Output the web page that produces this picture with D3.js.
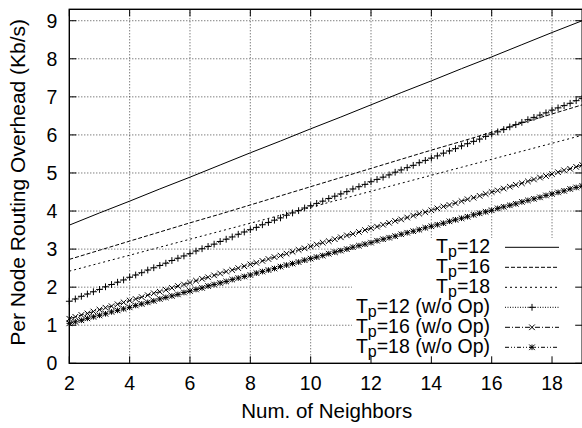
<!DOCTYPE html>
<html>
<head>
<meta charset="utf-8">
<script src="https://cdn.jsdelivr.net/npm/d3@7"></script>
<style>
  body { margin: 0; background: #fff; }
  svg text { font-family: "Liberation Sans", Arial, Helvetica, sans-serif; fill: #000; }
</style>
</head>
<body>
<div id="chart"></div>
<script>

// ******* DATA *******
// integer neighbor counts used by the straight T_p lines
var neighbors = [2, 3, 4, 5, 6, 7, 8, 9, 10, 11, 12, 13, 14, 15, 16, 17, 18, 19];
var tp12 = [3.63, 3.95, 4.26, 4.58, 4.89, 5.21, 5.53, 5.84, 6.16, 6.47, 6.79, 7.11, 7.42, 7.74, 8.05, 8.37, 8.69, 9.00];
var tp16 = [2.73, 2.97, 3.21, 3.45, 3.69, 3.92, 4.16, 4.40, 4.64, 4.88, 5.12, 5.36, 5.60, 5.83, 6.07, 6.31, 6.55, 6.79];
var tp18 = [2.42, 2.63, 2.84, 3.05, 3.26, 3.47, 3.68, 3.89, 4.10, 4.31, 4.52, 4.73, 4.94, 5.15, 5.36, 5.57, 5.78, 5.99];

// sample points of the "w/o Op" curves (one mark each)
var neighborsFine = [2.0, 2.2, 2.4, 2.6, 2.8, 3.0, 3.2, 3.4, 3.6, 3.8, 4.0, 4.2, 4.4, 4.6, 4.8,
	5.0, 5.2, 5.4, 5.6, 5.8, 6.0, 6.2, 6.4, 6.6, 6.8, 7.0, 7.2, 7.4, 7.6, 7.8,
	8.0, 8.2, 8.4, 8.6, 8.8, 9.0, 9.2, 9.4, 9.6, 9.8, 10.0, 10.2, 10.4, 10.6, 10.8,
	11.0, 11.2, 11.4, 11.6, 11.8, 12.0, 12.2, 12.4, 12.6, 12.8, 13.0, 13.2, 13.4, 13.6, 13.8,
	14.0, 14.2, 14.4, 14.6, 14.8, 15.0, 15.2, 15.4, 15.6, 15.8, 16.0, 16.2, 16.4, 16.6, 16.8,
	17.0, 17.2, 17.4, 17.6, 17.8, 18.0, 18.2, 18.4, 18.6, 18.8, 19.0];
var tp12NoOp = [1.63, 1.69, 1.76, 1.82, 1.88, 1.94, 2.01, 2.07, 2.13, 2.19, 2.26, 2.32, 2.38, 2.45, 2.51,
	2.57, 2.63, 2.70, 2.76, 2.82, 2.88, 2.95, 3.01, 3.07, 3.13, 3.20, 3.26, 3.32, 3.39, 3.45,
	3.51, 3.57, 3.64, 3.70, 3.76, 3.82, 3.89, 3.95, 4.01, 4.08, 4.14, 4.20, 4.26, 4.33, 4.39,
	4.45, 4.51, 4.58, 4.64, 4.70, 4.77, 4.83, 4.89, 4.95, 5.02, 5.08, 5.14, 5.20, 5.27, 5.33,
	5.39, 5.45, 5.52, 5.58, 5.64, 5.71, 5.77, 5.83, 5.89, 5.96, 6.02, 6.08, 6.14, 6.21, 6.27,
	6.33, 6.40, 6.46, 6.52, 6.58, 6.65, 6.71, 6.77, 6.83, 6.90, 6.96];
var tp16NoOp = [1.17, 1.22, 1.27, 1.31, 1.36, 1.41, 1.46, 1.50, 1.55, 1.60, 1.65, 1.69, 1.74, 1.79, 1.84,
	1.88, 1.93, 1.98, 2.03, 2.07, 2.12, 2.17, 2.22, 2.26, 2.31, 2.36, 2.41, 2.45, 2.50, 2.55,
	2.60, 2.64, 2.69, 2.74, 2.79, 2.83, 2.88, 2.93, 2.98, 3.02, 3.07, 3.12, 3.17, 3.21, 3.26,
	3.31, 3.36, 3.40, 3.45, 3.50, 3.55, 3.59, 3.64, 3.69, 3.74, 3.78, 3.83, 3.88, 3.93, 3.97,
	4.02, 4.07, 4.12, 4.16, 4.21, 4.26, 4.31, 4.35, 4.40, 4.45, 4.50, 4.54, 4.59, 4.64, 4.69,
	4.73, 4.78, 4.83, 4.88, 4.92, 4.97, 5.02, 5.07, 5.11, 5.16, 5.21];
var tp18NoOp = [1.05, 1.09, 1.13, 1.18, 1.22, 1.26, 1.30, 1.35, 1.39, 1.43, 1.47, 1.52, 1.56, 1.60, 1.64,
	1.69, 1.73, 1.77, 1.81, 1.86, 1.90, 1.94, 1.98, 2.03, 2.07, 2.11, 2.15, 2.20, 2.24, 2.28,
	2.32, 2.37, 2.41, 2.45, 2.49, 2.54, 2.58, 2.62, 2.66, 2.71, 2.75, 2.79, 2.83, 2.88, 2.92,
	2.96, 3.00, 3.05, 3.09, 3.13, 3.17, 3.22, 3.26, 3.30, 3.34, 3.39, 3.43, 3.47, 3.51, 3.56,
	3.60, 3.64, 3.68, 3.73, 3.77, 3.81, 3.85, 3.90, 3.94, 3.98, 4.02, 4.07, 4.11, 4.15, 4.19,
	4.24, 4.28, 4.32, 4.36, 4.41, 4.45, 4.49, 4.53, 4.58, 4.62, 4.66];

// tick labels
var xTicks = [2, 4, 6, 8, 10, 12, 14, 16, 18];
var yTicks = [0, 1, 2, 3, 4, 5, 6, 7, 8, 9];

// series table: label number, style, marker
var series = [
	{tp: "12", extra: "", xs: neighbors, ys: tp12, dash: null, mark: null},
	{tp: "16", extra: "", xs: neighbors, ys: tp16, dash: "4,2", mark: null},
	{tp: "18", extra: "", xs: neighbors, ys: tp18, dash: "2,3", mark: null},
	{tp: "12", extra: " (w/o Op)", xs: neighborsFine, ys: tp12NoOp, dash: "1,1.5", mark: "plus"},
	{tp: "16", extra: " (w/o Op)", xs: neighborsFine, ys: tp16NoOp, dash: "5,2,1,2", mark: "cross"},
	{tp: "18", extra: " (w/o Op)", xs: neighborsFine, ys: tp18NoOp, dash: "4,2,1,2,1,2", mark: "star"}
];

// SVG drawing area
var W = 582, H = 428;
var margin = {top: 9.3, right: -0.2, bottom: 64.7, left: 69.3};
var width = W - margin.left - margin.right,
	height = H - margin.top - margin.bottom;

var svg = d3.select("#chart").append("svg")
	.attr("width", W)
	.attr("height", H)
	.style("display", "block");

var g = svg.append("g")
	.attr("transform", "translate(" + margin.left + "," + margin.top + ")");

// ******* SCALES *******
var xScale = d3.scaleLinear().domain([2, 19]).range([0, width]);
var yScale = d3.scaleLinear().domain([0, 9.3]).range([height, 0]);

// ******* GRID *******
var gridStyle = function(sel) {
	sel.attr("stroke", "#333").attr("stroke-width", 0.9).attr("stroke-dasharray", "1,2");
};
g.selectAll(".vgrid")
	.data(xTicks.filter(function(d) { return d > 2; }))
	.enter().append("line")
	.attr("class", "vgrid")
	.attr("x1", function(d) { return xScale(d); })
	.attr("x2", function(d) { return xScale(d); })
	.attr("y1", 0)
	.attr("y2", height)
	.call(gridStyle);
g.selectAll(".hgrid")
	.data(yTicks.filter(function(d) { return d > 0; }))
	.enter().append("line")
	.attr("class", "hgrid")
	.attr("x1", 0)
	.attr("x2", width)
	.attr("y1", function(d) { return yScale(d); })
	.attr("y2", function(d) { return yScale(d); })
	.call(gridStyle);

// opaque key box hides the grid behind the legend
var keyLeft = 352 - margin.left, keyTop = 238 - margin.top;
g.append("rect")
	.attr("x", keyLeft)
	.attr("y", keyTop)
	.attr("width", width - keyLeft)
	.attr("height", height - keyTop)
	.attr("fill", "#fff");

// ******* LINES *******
var line = d3.line()
	.x(function(d) { return xScale(d[0]); })
	.y(function(d) { return yScale(d[1]); });

function markerPath(type, r) {
	var p = "M" + (-r) + ",0H" + r + "M0," + (-r) + "V" + r;
	var x = "M" + (-r) + "," + (-r) + "L" + r + "," + r + "M" + (-r) + "," + r + "L" + r + "," + (-r);
	if (type == "plus") return p;
	if (type == "cross") return x;
	return p + x;
}

series.forEach(function(s) {
	var pts = s.xs.map(function(x, i) { return [x, s.ys[i]]; });
	g.append("path")
		.attr("d", line(pts))
		.attr("fill", "none")
		.attr("stroke", "#000")
		.attr("stroke-width", 1)
		.attr("stroke-dasharray", s.dash);
	if (s.mark) {
		g.selectAll(".m-" + s.mark)
			.data(pts)
			.enter().append("path")
			.attr("class", "m-" + s.mark)
			.attr("transform", function(d) { return "translate(" + xScale(d[0]) + "," + yScale(d[1]) + ")"; })
			.attr("d", markerPath(s.mark, s.mark == "plus" ? 3.4 : 2.8))
			.attr("fill", "none")
			.attr("stroke", "#000")
			.attr("stroke-width", 1);
	}
});

// ******* BORDER + TICKS *******
g.append("rect")
	.attr("width", width)
	.attr("height", height)
	.attr("fill", "none")
	.attr("stroke", "#000")
	.attr("stroke-width", 1.4);

var tickLen = 7;
xTicks.forEach(function(d) {
	g.append("line").attr("x1", xScale(d)).attr("x2", xScale(d))
		.attr("y1", height).attr("y2", height - tickLen).attr("stroke", "#000");
	g.append("line").attr("x1", xScale(d)).attr("x2", xScale(d))
		.attr("y1", 0).attr("y2", tickLen).attr("stroke", "#000");
});
yTicks.forEach(function(d) {
	g.append("line").attr("x1", 0).attr("x2", tickLen)
		.attr("y1", yScale(d)).attr("y2", yScale(d)).attr("stroke", "#000");
	g.append("line").attr("x1", width).attr("x2", width - tickLen)
		.attr("y1", yScale(d)).attr("y2", yScale(d)).attr("stroke", "#000");
});

// tick labels
var fs = 19.5;
g.selectAll(".xlab")
	.data(xTicks)
	.enter().append("text")
	.attr("class", "xlab")
	.attr("x", function(d) { return xScale(d); })
	.attr("y", height + 27)
	.attr("text-anchor", "middle")
	.style("font-size", fs + "px")
	.text(function(d) { return d; });
g.selectAll(".ylab")
	.data(yTicks)
	.enter().append("text")
	.attr("class", "ylab")
	.attr("x", -12)
	.attr("y", function(d) { return yScale(d) + 7; })
	.attr("text-anchor", "end")
	.style("font-size", fs + "px")
	.text(function(d) { return d; });

// axis titles
svg.append("text")
	.attr("x", margin.left + width / 2 + 1)
	.attr("y", 418)
	.attr("text-anchor", "middle")
	.style("font-size", "20.5px")
	.text("Num. of Neighbors");
svg.append("text")
	.attr("transform", "translate(25," + (margin.top + height / 2 - 4) + ") rotate(-90)")
	.attr("text-anchor", "middle")
	.style("font-size", "21px")
	.text("Per Node Routing Overhead (Kb/s)");

// ******* LEGEND *******
var key = svg.append("g");
series.forEach(function(s, i) {
	var cy = 247.3 + i * 20;
	var t = key.append("text")
		.attr("x", 490)
		.attr("y", cy + 6)
		.attr("text-anchor", "end")
		.style("font-size", fs + "px");
	t.append("tspan").text("T");
	t.append("tspan").attr("dy", 4).style("font-size", "16px").text("p");
	t.append("tspan").attr("dy", -4).text("=" + s.tp + s.extra);
	key.append("line")
		.attr("x1", 505).attr("x2", 559)
		.attr("y1", cy).attr("y2", cy)
		.attr("stroke", "#000")
		.attr("stroke-width", 1)
		.attr("stroke-dasharray", s.dash);
	if (s.mark) {
		key.append("path")
			.attr("transform", "translate(532," + cy + ")")
			.attr("d", markerPath(s.mark, s.mark == "plus" ? 3.4 : 2.8))
			.attr("fill", "none")
			.attr("stroke", "#000");
	}
});

</script>
</body>
</html>
